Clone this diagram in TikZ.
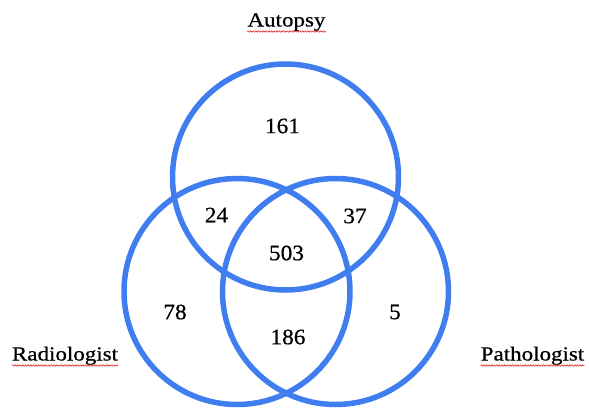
\documentclass[tikz,border=0pt]{standalone}
\usepackage{fontspec}
\setmainfont{Liberation Serif}
\newfontfamily\labelfont[FakeStretch=1.15, FakeBold=0.6]{Liberation Serif}
\newfontfamily\countfont[FakeStretch=1.06, FakeBold=0.6]{Liberation Serif}
\usetikzlibrary{decorations.pathmorphing}

\definecolor{vennblue}{RGB}{64,126,240}
\definecolor{spellred}{RGB}{225,40,40}

\tikzstyle{setring} = [draw=vennblue, line width=5.5pt, circle,
    minimum size=226pt, inner sep=0pt]
\tikzstyle{setname} = [anchor=base, inner sep=0pt, font=\labelfont\fontsize{20}{24}\selectfont]
\tikzstyle{count} = [inner sep=0pt, font=\countfont\fontsize{22}{26}\selectfont]
\tikzstyle{squiggle} = [draw=spellred, line width=0.6pt,
    decorate, decoration={snake, amplitude=0.7pt, segment length=2.6pt}]

\begin{document}
\begin{tikzpicture}[x=1pt, y=-1pt]
\useasboundingbox (0,0) rectangle (589,408);

% the three sets
\node [setring] (autopsy) at (285.5,177) {};
\node [setring] (radio) at (237,291.5) {};
\node [setring] (patho) at (335.5,291.5) {};

% set names
\node [setname] (autopsyname) at (286.5,26.5) {Autopsy};
\node [setname] (radioname) at (65,360.5) {Radiologist};
\node [setname] (pathoname) at (532.5,360.5) {Pathologist};
\draw [squiggle] ([yshift=-5pt]autopsyname.base west) -- ([yshift=-5pt]autopsyname.base east);
\draw [squiggle] ([yshift=-5pt]radioname.base west) -- ([yshift=-5pt]radioname.base east);
\draw [squiggle] ([yshift=-5pt]pathoname.base west) -- ([yshift=-5pt]pathoname.base east);

% region counts
\node [count] (onlyA) at (282.5,126) {161};
\node [count] (AR) at (216.5,215) {24};
\node [count] (AP) at (355,216) {37};
\node [count] (ARP) at (286.5,253) {503};
\node [count] (onlyR) at (175,312) {78};
\node [count] (onlyP) at (395,312) {5};
\node [count] (RP) at (288,337) {186};
\end{tikzpicture}
\end{document}
